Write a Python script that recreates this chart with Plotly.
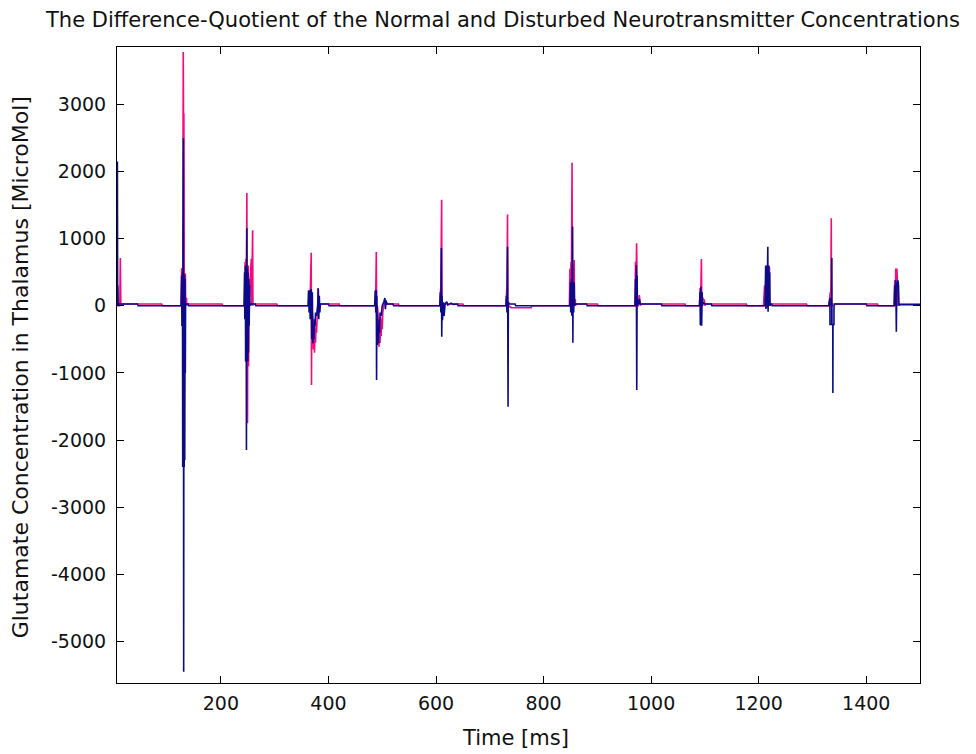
import plotly.graph_objects as go

# ---- data: (time [ms], difference-quotient) per stimulus burst ----
# magenta series
m_b0010 = [(7,0),(12,0),(13,710),(14,0),(15,25),(90,25),(91,0)]
m_b0130 = [(126,0),(127,560),(127.5,0),(128.5,560),(129,0),(130,3780),(130.5,2850),(131.2,2850),(131.7,0),(132,-1500),(132.5,0),(134,480),(134.5,0),(136,120),(136.5,0),(137,25),(202,25),(203,0)]
m_b0250 = [(244,0),(245,650),(245.5,0),(246.5,700),(247,0),(248.3,1680),(248.8,0),(249.5,-1750),(250,0),(251,600),(251.5,-900),(252,0),(256.5,700),(257,0),(259,1125),(259.6,0),(260,25),(304,25),(305,0)]
m_b0370 = [(364,0),(365,150),(365.5,0),(368,790),(368.5,-1180),(369,0),(371,-200),(372,-650),(373,-300),(374,-700),(375,-350),(376,-550),(377,-250),(378,-400),(379,-150),(380,0),(381,260),(381.5,0),(382,-100),(383,0),(384,25),(420,25),(421,0)]
m_b0490 = [(486,0),(488,200),(489,800),(489.5,0),(490,-300),(491,0),(493,-200),(494,-610),(495,-250),(496,-555),(497,-160),(498,-450),(499,-200),(500,-350),(501,-100),(503,0),(504,25),(530,25),(531,0)]
m_b0610 = [(607,0),(609,300),(610.5,1580),(611,0),(612,-150),(613,0),(614,25),(650,25),(651,0)]
m_b0735 = [(730,0),(732,300),(733,1360),(733.5,0),(735,0),(740,-30),(777,-30),(778,0)]
m_b0855 = [(848,0),(849,550),(849.5,0),(851,650),(851.5,0),(853,2130),(853.5,700),(854,0),(855,600),(855.5,0),(857,680),(857.5,0),(859,100),(859.5,0),(860,25),(900,25),(901,0)]
m_b0975 = [(970,0),(971,655),(971.5,0),(973,929),(973.5,655),(974,0),(976,0),(978,160),(979,90),(980,0),(981,25),(1063,25),(1064,0)]
m_b1095 = [(1090,0),(1091,263),(1092,0),(1093.5,695),(1094,263),(1094.5,0),(1096,120),(1097,85),(1099,85),(1100,0),(1101,25),(1177,25),(1178,0)]
m_b1215 = [(1209,0),(1211,300),(1211.5,0),(1214,580),(1215,0),(1217,400),(1218,0),(1220,580),(1220.5,0),(1223,25),(1289,25),(1290,0)]
m_b1335 = [(1331,0),(1333,200),(1334,0),(1335,1305),(1335.5,0),(1337,0),(1338,25),(1421,25),(1422,0)]
m_b1455 = [(1452,0),(1453,380),(1453.5,0),(1455,556),(1456,380),(1457,556),(1458,380),(1459,0),(1460,25),(1500,25)]

# navy series
n_b0010 = [(7,0),(7.5,2150),(8,0),(8.5,300),(9,0),(10,25),(45,25),(46,0)]
n_b0130 = [(126,0),(127,450),(127.5,-300),(128.5,500),(129,-2400),(129.5,400),(130.3,2500),(130.8,-5450),(131.3,480),(131.8,-2400),(132.3,450),(132.8,-2300),(133.3,400),(133.8,-1000),(134.3,0),(135,25),(139,25),(140,0)]
n_b0250 = [(243,0),(244,500),(244.5,-200),(245.5,600),(246,-830),(247,550),(247.5,-2150),(248.2,1155),(248.7,-830),(249.2,550),(250,-830),(250.5,500),(251.2,-700),(252,400),(252.5,-300),(253.5,300),(254,0),(255,25),(264,25),(265,0)]
n_b0370 = [(362,0),(363,230),(364,-100),(365,230),(366,-200),(368,250),(369,-500),(370,200),(371,-560),(372,-350),(373,-500),(374,-200),(375,-300),(376,-100),(378,-150),(380,0),(381,260),(382,-200),(383,150),(384,-100),(385,25),(400,25),(401,0)]
n_b0490 = [(486,0),(487,230),(488,-100),(489,230),(489.5,-1105),(490,150),(491,-585),(492,-300),(493,-560),(494,-200),(495,-400),(496,-100),(498,-150),(500,0),(503,60),(505,115),(506,-50),(507,80),(509,25),(520,25),(521,0)]
n_b0610 = [(607,0),(608,200),(609,-100),(610,860),(610.7,-460),(611.3,150),(612,-215),(613,-100),(614,50),(615,-150),(617,30),(620,60),(622,10),(628,40),(632,20),(640,25),(641,0)]
n_b0735 = [(730,0),(731,150),(732,-100),(733,880),(734,-1503),(734.5,60),(736,25),(747,25),(748,0)]
n_b0855 = [(849,0),(850,350),(850.5,-100),(852,400),(852.5,-150),(854,1180),(854.5,-550),(855,300),(856,-100),(857,350),(857.5,0),(859,25),(880,25),(881,0)]
n_b0975 = [(970,0),(971,400),(971.5,0),(972.5,605),(973.3,-1255),(974,450),(974.5,0),(976,80),(977,20),(978,100),(980,25),(1019,25),(1020,0)]
n_b1095 = [(1090,0),(1091,200),(1091.5,-287),(1092.5,283),(1093,-287),(1094,-287),(1095,200),(1095.5,0),(1097,50),(1100,25),(1112,25),(1113,0)]
n_b1215 = [(1212,0),(1213,600),(1213.5,-50),(1215,600),(1215.5,-30),(1217,880),(1217.5,-90),(1219,600),(1219.5,0),(1220.5,500),(1221,0),(1222,25),(1224,25),(1225,0)]
n_b1335 = [(1330,0),(1332.5,115),(1332.6,-280),(1335.8,-280),(1336,710),(1336.3,-280),(1337.8,-280),(1338,-1300),(1338.2,-280),(1340,-280),(1340.1,0),(1342,25),(1400,25),(1401,0)]
n_b1455 = [(1452,0),(1453,300),(1453.5,0),(1455,382),(1456,-387),(1456.5,0),(1457,350),(1458,300),(1459,380),(1460,300),(1461,0),(1462,15),(1500,15)]

x_tick_values = [200, 400, 600, 800, 1000, 1200, 1400]
x_tick_labels = ["200", "400", "600", "800", "1000", "1200", "1400"]
y_tick_values = [-5000, -4000, -3000, -2000, -1000, 0, 1000, 2000, 3000]
y_tick_labels = ["-5000", "-4000", "-3000", "-2000", "-1000", "0", "1000", "2000", "3000"]

title_text = "The Difference-Quotient of the Normal and Disturbed Neurotransmitter Concentrations"
x_label = "Time [ms]"
y_label = "Glutamate Concentration in Thalamus [MicroMol]"

magenta_bursts = [m_b0010, m_b0130, m_b0250, m_b0370, m_b0490, m_b0610, m_b0735,
                  m_b0855, m_b0975, m_b1095, m_b1215, m_b1335, m_b1455]
navy_bursts = [n_b0010, n_b0130, n_b0250, n_b0370, n_b0490, n_b0610, n_b0735,
               n_b0855, n_b0975, n_b1095, n_b1215, n_b1335, n_b1455]


def flatten(bursts):
    t, v = [], []
    for b in bursts:
        for a, c in b:
            t.append(a)
            v.append(c)
    return t, v


mt, mv = flatten(magenta_bursts)
nt, nv = flatten(navy_bursts)

FONT = "DejaVu Sans"
W, H = 976, 754
L, R, T, B = 116.7, 920, 46.7, 683.3

fig = go.Figure()
fig.add_trace(go.Scatter(x=mt, y=mv, mode="lines",
                         line=dict(color="#f20a80", width=1.6, simplify=False),
                         showlegend=False, hoverinfo="skip"))
fig.add_trace(go.Scatter(x=nt, y=nv, mode="lines",
                         line=dict(color="#0b0b8a", width=1.6, simplify=False),
                         showlegend=False, hoverinfo="skip"))

axis_common = dict(showgrid=False, zeroline=False, showline=True, linecolor="#000000",
                   linewidth=1, mirror="ticks", ticks="inside", ticklen=7, tickwidth=1,
                   tickcolor="#000000", tickfont=dict(family=FONT, size=19, color="#111111"))

fig.update_xaxes(range=[6.8, 1500], tickmode="array", tickvals=x_tick_values,
                 ticktext=x_tick_labels, ticklabelstandoff=3, **axis_common)
fig.update_yaxes(range=[-5619, 3854], tickmode="array", tickvals=y_tick_values,
                 ticktext=y_tick_labels, ticklabelstandoff=6, **axis_common)

pw, ph = R - L, B - T
fig.update_layout(
    width=W, height=H,
    margin=dict(l=L, r=W - R, t=T, b=H - B, pad=0),
    paper_bgcolor="white", plot_bgcolor="white",
    annotations=[
        dict(text=title_text, x=(502 - L) / pw, y=(B - 20) / ph, xref="paper", yref="paper",
             showarrow=False, xanchor="center", yanchor="middle",
             font=dict(family=FONT, size=21, color="#111111")),
        dict(text=x_label, x=(515 - L) / pw, y=(B - 738) / ph, xref="paper", yref="paper",
             showarrow=False, xanchor="center", yanchor="middle",
             font=dict(family=FONT, size=21, color="#111111")),
        dict(text=y_label, x=(21 - L) / pw, y=(B - 367) / ph, xref="paper", yref="paper",
             showarrow=False, xanchor="center", yanchor="middle", textangle=-90,
             font=dict(family=FONT, size=22, color="#111111")),
    ],
)

fig.write_html("out.html")
